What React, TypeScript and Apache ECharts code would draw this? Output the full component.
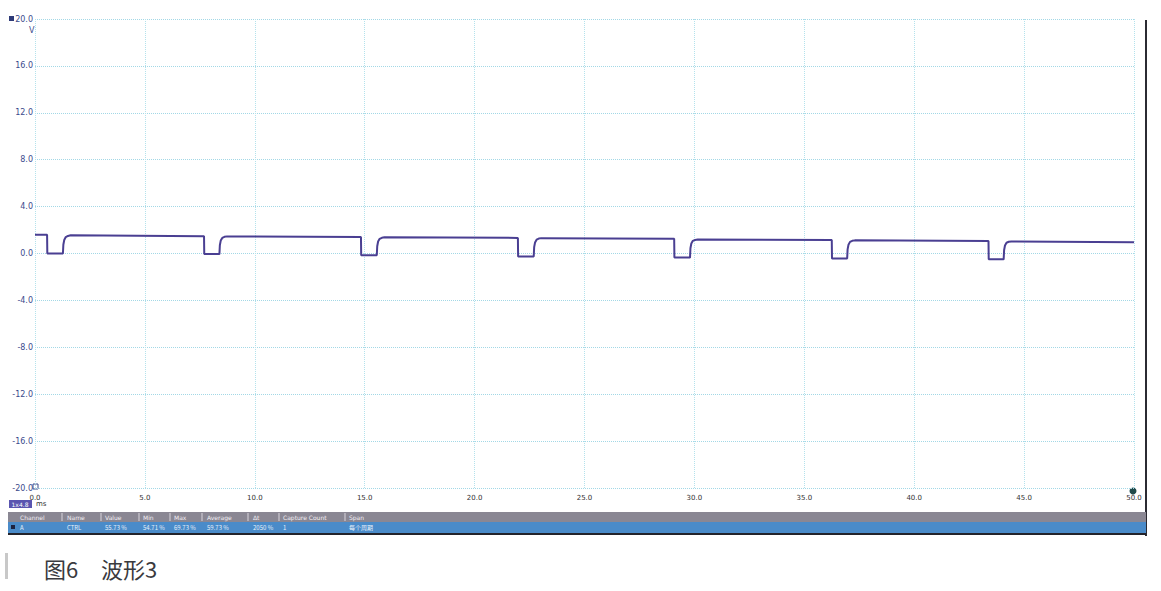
import React, { useEffect, useRef } from "react";
import * as echarts from "echarts";

// Time (ms) and voltage (V)
const timeMs = [
  0, 0.55, 0.56, 1.27, 1.29, 1.33, 1.4, 1.5, 1.62,
  7.69, 7.7, 8.39, 8.41, 8.45, 8.52, 8.62, 8.74,
  14.83, 14.84, 15.55, 15.57, 15.61, 15.68, 15.78, 15.9,
  21.97, 21.98, 22.69, 22.71, 22.75, 22.82, 22.92, 23.04,
  29.08, 29.09, 29.8, 29.82, 29.86, 29.93, 30.03, 30.15,
  36.25, 36.26, 36.95, 36.97, 37.01, 37.08, 37.18, 37.3,
  43.38, 43.39, 44.07, 44.09, 44.13, 44.2, 44.3, 44.42,
  50,
];
const voltage = [
  1.6, 1.6, 0.0, 0.0, 0.75, 1.15, 1.4, 1.5, 1.55,
  1.47, -0.05, -0.05, 0.7, 1.1, 1.33, 1.42, 1.46,
  1.4, -0.15, -0.15, 0.62, 1.02, 1.25, 1.34, 1.38,
  1.33, -0.25, -0.25, 0.54, 0.94, 1.18, 1.27, 1.31,
  1.25, -0.35, -0.35, 0.45, 0.85, 1.08, 1.16, 1.2,
  1.15, -0.43, -0.43, 0.35, 0.75, 0.99, 1.08, 1.12,
  1.06, -0.5, -0.5, 0.28, 0.68, 0.92, 1.0, 1.03,
  0.97,
];

const yMin = -20;
const yMax = 20;
const yStep = 4;
const xMin = 0;
const xMax = 50;
const xStep = 5;

const tableHeaders = ["Channel", "Name", "Value", "Min", "Max", "Average", "Δt", "Capture Count", "Span"];
const tableValues = ["A", "CTRL", "55.73 %", "54.71 %", "69.73 %", "59.73 %", "2050 %", "1", "每个周期"];
const tableColX = [20, 67, 105, 143, 174, 207, 253, 283, 349];
const tableSepX = [62, 101, 139, 170, 202, 248, 279, 345];

const captionFig = "图6";
const captionTitle = "波形3";

export default function App() {
  const ref = useRef<HTMLDivElement>(null);
  useEffect(() => {
    if (!ref.current) return;
    const chart = echarts.init(ref.current, undefined, { renderer: "svg" });
    const data = timeMs.map((t, i) => [t, voltage[i]]);
    const graphics: any[] = [];
    // right frame line
    graphics.push({ type: "line", shape: { x1: 1146, y1: 20, x2: 1146, y2: 536 }, style: { stroke: "#2b2b33", lineWidth: 2 } });
    // channel marker and unit
    graphics.push({ type: "rect", shape: { x: 9, y: 16, width: 5, height: 5 }, style: { fill: "#2e3a78" } });
    graphics.push({ type: "text", x: 29, y: 30, style: { text: "V", fill: "#3b4a8c", font: "8px 'DejaVu Sans'", textAlign: "left", textVerticalAlign: "middle" } });
    graphics.push({ type: "rect", shape: { x: 33, y: 484, width: 5, height: 5 }, style: { fill: "none", stroke: "#3b4a8c", lineWidth: 1 } });
    // ms scale box
    graphics.push({ type: "rect", shape: { x: 9, y: 500, width: 23, height: 8 }, style: { fill: "#5a55b0" } });
    graphics.push({ type: "text", x: 20, y: 504, style: { text: "1x4.8", fill: "#ffffff", font: "6px 'DejaVu Sans'", textAlign: "center", textVerticalAlign: "middle" } });
    graphics.push({ type: "text", x: 36, y: 504, style: { text: "ms", fill: "#333", font: "7px 'DejaVu Sans'", textAlign: "left", textVerticalAlign: "middle" } });
    // end dot
    graphics.push({ type: "circle", shape: { cx: 1133, cy: 491, r: 3.5 }, style: { fill: "#1f4a4a" } });
    // table
    graphics.push({ type: "rect", shape: { x: 8, y: 512, width: 1138, height: 10 }, style: { fill: "#8a8793" } });
    graphics.push({ type: "rect", shape: { x: 8, y: 522, width: 1138, height: 11 }, style: { fill: "#4a8bc9" } });
    graphics.push({ type: "line", shape: { x1: 8, y1: 534, x2: 1146, y2: 534 }, style: { stroke: "#23232b", lineWidth: 2 } });
    graphics.push({ type: "rect", shape: { x: 11, y: 525, width: 4, height: 4 }, style: { fill: "#1d2340" } });
    tableSepX.forEach((x) => {
      graphics.push({ type: "line", shape: { x1: x, y1: 513, x2: x, y2: 521 }, style: { stroke: "#d8d4dc", lineWidth: 1 } });
    });
    tableHeaders.forEach((h, i) => {
      graphics.push({ type: "text", x: tableColX[i], y: 517, style: { text: h, fill: "#f2eef4", font: "6px 'DejaVu Sans'", textAlign: "left", textVerticalAlign: "middle" } });
    });
    tableValues.forEach((v, i) => {
      graphics.push({ type: "text", x: tableColX[i], y: 527.5, style: { text: v, fill: "#e6f0fa", font: "6px 'Noto Sans CJK SC'", textAlign: "left", textVerticalAlign: "middle" } });
    });
    // caption
    graphics.push({ type: "rect", shape: { x: 5, y: 553, width: 3, height: 26 }, style: { fill: "#c8c8c8" } });
    graphics.push({ type: "text", x: 44, y: 568, style: { text: captionFig, fill: "#3a3a3e", font: "22px 'Noto Sans CJK SC'", textAlign: "left", textVerticalAlign: "middle" } });
    graphics.push({ type: "text", x: 101, y: 568, style: { text: captionTitle, fill: "#3a3a3e", font: "22px 'Noto Sans CJK SC'", textAlign: "left", textVerticalAlign: "middle" } });

    chart.setOption({
      animation: false,
      backgroundColor: "#ffffff",
      grid: { left: 35, top: 19, width: 1099, height: 469, containLabel: false },
      xAxis: {
        type: "value",
        min: xMin,
        max: xMax,
        interval: xStep,
        axisLine: { show: false },
        axisTick: { show: false },
        axisLabel: { fontSize: 7, color: "#333", margin: 6, formatter: (v: number) => v.toFixed(1), fontFamily: "DejaVu Sans" },
        splitLine: { show: true, lineStyle: { type: "dotted", color: "#b4e2ec", width: 1 } },
      },
      yAxis: {
        type: "value",
        min: yMin,
        max: yMax,
        interval: yStep,
        axisLine: { show: false },
        axisTick: { show: false },
        axisLabel: { fontSize: 8, color: "#3b4a8c", margin: 2, formatter: (v: number) => v.toFixed(1), fontFamily: "DejaVu Sans" },
        splitLine: { show: true, lineStyle: { type: "dotted", color: "#a3d8e6", width: 1 } },
      },
      series: [
        {
          type: "line",
          data,
          showSymbol: false,
          smooth: false,
          lineStyle: { color: "#4a3f92", width: 2 },
        },
      ],
      graphic: graphics,
    });
    return () => chart.dispose();
  }, []);
  return <div ref={ref} style={{ position: "absolute", left: 0, top: 0, width: 1161, height: 591, background: "#fff" }} />;
}
